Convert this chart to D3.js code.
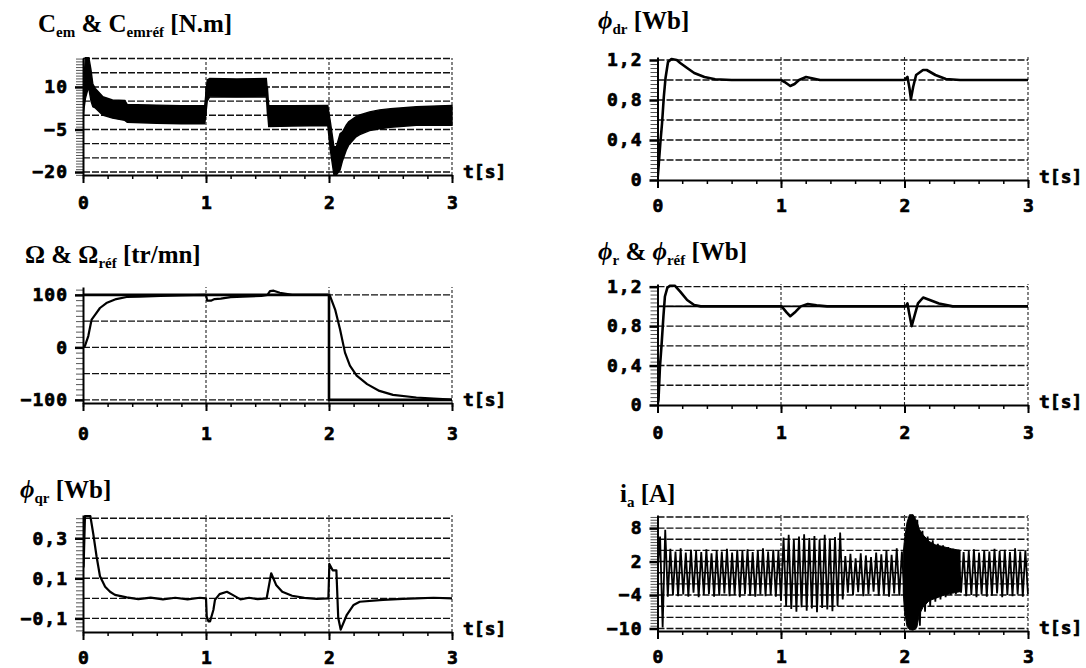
<!DOCTYPE html>
<html><head><meta charset="utf-8">
<script src="https://cdn.jsdelivr.net/npm/d3@7/dist/d3.min.js"></script>
<style>body{margin:0;background:#fff}svg{display:block}</style>
</head><body>
<svg id="c" width="1086" height="668"></svg>
<script>
// ---------------- DATA ----------------
const timeTicks  = [0, 1, 2, 3];
const timeLabels = ["0", "1", "2", "3"];

// Panel 1 : C_em (noisy band: upper / lower envelope) & C_em_ref
const cemT  = [0, 0.01, 0.02, 0.045, 0.065, 0.08, 0.10, 0.16, 0.24, 0.34, 0.36, 0.60, 0.80, 0.99, 1.01, 1.03, 1.25, 1.49, 1.51, 1.70, 1.99, 2.01, 2.04, 2.06, 2.09, 2.11, 2.14, 2.16, 2.22, 2.25, 2.33, 2.41, 2.50, 2.71, 3.00];
const cemHi = [2, 14, 21, 21, 16, 11, 9.5, 6.6, 5.4, 5.2, 3.8, 3.6, 3.4, 3.5, 12.5, 13, 12.8, 13, 3.5, 3.4, 3.5, -2, -11, -11.1, -6.5, -5.8, -3.5, -2.3, -0.5, 0.1, 1.2, 1.9, 2.3, 3.0, 3.5];
const cemLo = [-1, 3, 6, 10, 5, 3, 2.6, 0.1, -1.0, -1.8, -2.5, -2.8, -3.0, -3.0, 5, 6.5, 6.4, 6.5, -4, -3.8, -3.6, -12, -21, -21, -19.3, -16, -12.3, -10.5, -7.6, -6.8, -5.4, -4.8, -4.2, -3.5, -3.5];
const cemRefT = [0.25, 1, 1, 1.5, 1.5, 2.0];
const cemRefV = [0, 0, 10, 10, 0, 0];
const cemGrid = [-20, -15, -10, -5, 0, 5, 10, 15, 20];
const cemTicks = [10, -5, -20];
const cemTickLabels = ["10", "−5", "−20"];

// Panel 2 : phi_dr
const fdrT = [0, 0.008, 0.023, 0.037, 0.051, 0.065, 0.085, 0.113, 0.156, 0.184, 0.24, 0.297, 0.38, 0.467, 0.60, 1.00, 1.03, 1.075, 1.11, 1.146, 1.203, 1.316, 2.00, 2.024, 2.04, 2.052, 2.07, 2.094, 2.15, 2.18, 2.25, 2.335, 2.45, 3.00];
const fdrV = [0, 0.12, 0.37, 0.57, 0.83, 1.02, 1.18, 1.21, 1.2, 1.17, 1.12, 1.07, 1.03, 1.007, 1.0, 1.0, 0.98, 0.94, 0.96, 1.0, 1.03, 1.0, 1.0, 1.03, 0.92, 0.81, 0.93, 1.05, 1.1, 1.1, 1.05, 1.01, 1.0, 1.0];
const fluxGrid = [0.2, 0.4, 0.6, 0.8, 1.0, 1.2];
const fluxTicks = [1.2, 0.8, 0.4, 0];
const fluxTickLabels = ["1,2", "0,8", "0,4", "0"];

// Panel 3 : Omega & Omega_ref
const omT = [0, 0.016, 0.043, 0.07, 0.098, 0.138, 0.19, 0.27, 0.355, 0.46, 0.63, 0.80, 1.00, 1.01, 1.04, 1.07, 1.12, 1.20, 1.30, 1.45, 1.50, 1.52, 1.55, 1.60, 1.70, 2.00, 2.008, 2.05, 2.09, 2.13, 2.17, 2.225, 2.31, 2.41, 2.52, 2.71, 2.85, 3.00];
const omV = [0, 3, 21.5, 53, 62, 75, 84.5, 92, 96, 96.7, 98, 99, 100, 89, 89, 92, 93, 95.8, 96.8, 98, 100, 107, 108, 104, 100, 100, 98, 72, 34, -10, -35, -54, -70, -83, -90.5, -95.5, -97.5, -99.5];
const omRefT = [0, 2, 2, 3];
const omRefV = [100, 100, -100, -100];
const omGrid = [-100, -50, 0, 50, 100];
const omTicks = [100, 0, -100];
const omTickLabels = ["100", "0", "−100"];

// Panel 4 : phi_r & phi_ref
const frT = [0, 0.008, 0.02, 0.034, 0.048, 0.06, 0.08, 0.10, 0.14, 0.184, 0.24, 0.297, 0.35, 1.005, 1.047, 1.075, 1.118, 1.16, 1.217, 1.288, 1.373, 2.01, 2.024, 2.038, 2.058, 2.08, 2.109, 2.151, 2.194, 2.279, 2.39, 3.0];
const frV = [0, 0.05, 0.39, 0.63, 0.9, 1.1, 1.19, 1.21, 1.21, 1.15, 1.065, 1.014, 1.0, 1.0, 0.936, 0.90, 0.946, 1.0, 1.024, 1.01, 1.0, 1.0, 1.03, 0.93, 0.8, 0.9, 1.03, 1.09, 1.07, 1.03, 1.0, 1.0];
const frRefT = [0, 3];
const frRefV = [1.0, 1.0];

// Panel 5 : phi_qr
const fqT = [0, 0.005, 0.016, 0.06, 0.084, 0.11, 0.138, 0.18, 0.22, 0.26, 0.355, 0.45, 0.55, 0.65, 0.75, 0.85, 0.95, 1.0, 1.006, 1.02, 1.033, 1.06, 1.073, 1.11, 1.17, 1.22, 1.28, 1.35, 1.42, 1.493, 1.53, 1.57, 1.62, 1.70, 1.80, 1.90, 1.995, 2.003, 2.03, 2.06, 2.075, 2.095, 2.145, 2.20, 2.25, 2.44, 2.60, 2.71, 2.85, 3.0];
const fqV = [0.15, 0.16, 0.41, 0.41, 0.32, 0.21, 0.11, 0.058, 0.033, 0.017, 0.005, -0.004, 0.004, -0.005, 0.003, -0.005, 0.003, 0, -0.09, -0.115, -0.115, -0.058, -0.008, 0.021, 0.033, 0.016, -0.005, 0.003, -0.004, 0.0, 0.125, 0.067, 0.033, 0.013, 0.002, -0.003, 0.0, 0.172, 0.14, 0.14, -0.097, -0.156, -0.082, -0.033, -0.017, -0.008, -0.003, 0.0, 0.003, 0.0];
const fqGrid = [-0.1, 0, 0.1, 0.2, 0.3, 0.4];
const fqTicks = [0.3, 0.1, -0.1];
const fqTickLabels = ["0,3", "0,1", "−0,1"];

// Panel 6 : i_a  (recorded samples, one every half period)
const iaStep = 0.02083;
const iaV = [0, 6.5, -9.8, 7.7, -4.3,
  4.3, -4.0, 3.8, -4.2, 4.4, -3.9, 3.6, -4.3, 4.1, -3.6,
  3.9, -4.4, 3.7, -4.0, 4.2, -3.8, 3.5, -4.3, 4.0, -4.1,
  3.8, -3.7, 4.3, -4.2, 3.6, -4.0, 4.1, -4.4, 3.9, -3.8,
  4.2, -4.1, 3.7, -4.3, 4.0, -3.9, 4.4, -4.2, 3.8, -4.0,
  4.1, -4.3, 3.9,
  -5.0, 6.3, -6.0, 6.8, -6.5, 6.0, -7.0, 6.5, -6.2, 6.9,
  -6.8, 6.2, -6.4, 6.6, -7.1, 6.0, -6.3, 6.8, -6.6, 6.1,
  -6.9, 6.4, -6.0, 7.2,
  -4.8, 3.0, -3.6, 3.4, -4.0, 2.6, -3.5, 3.5, -4.2, 3.1,
  -3.8, 2.8, -3.4, 3.6, -4.1, 3.3, -3.9, 4.0, -4.3, 3.2,
  -3.7, 4.4, -4.1, 3.8,
  -4.0, 8.0, -9.8, 10.3, -10.2, 9.5, -9.5, 7.5, -7.0, 6.5,
  -6.0, 5.8, -5.2, 5.2, -4.8, 4.9, -4.4, 4.6, -4.0, 4.3,
  -3.8, 4.1,
  -3.6, 3.7, -4.2, 3.9, -4.0, 4.2, -4.4, 3.6, -3.9, 4.0,
  -4.3, 3.8, -4.1, 4.3, -3.7, 3.9, -4.4, 4.1, -4.0, 3.7,
  -4.2, 4.4, -3.9, 3.8, -4.3, 4.0, -3.8];
const iaBlobT  = [1.99, 2.00, 2.02, 2.04, 2.07, 2.10, 2.12, 2.15, 2.20, 2.25, 2.31, 2.38, 2.45];
const iaBlobHi = [3.5, 6.0, 9.0, 10.4, 10.4, 9.2, 7.8, 6.8, 5.6, 5.0, 4.7, 4.3, 4.0];
const iaBlobLo = [-3.5, -7.0, -9.6, -10.2, -10.3, -9.8, -7.5, -6.2, -5.0, -4.6, -4.1, -3.7, -3.4];
const iaGrid = [-10, -8, -6, -4, -2, 0, 2, 4, 6, 8, 10];
const iaTicks = [8, 2, -4, -10];
const iaTickLabels = ["8", "2", "−4", "−10"];

// ---------------- DRAWING ----------------
const svg = d3.select("#c");
svg.append("rect").attr("width", 1086).attr("height", 668).attr("fill", "#fff");
const MONO = "'DejaVu Sans Mono', monospace";
const SERIF = "'Liberation Serif', 'Times New Roman', serif";

function boldText(sel, size) {
  sel.attr("font-family", MONO).attr("font-weight", "bold").attr("font-size", size)
    .attr("fill", "#000").attr("stroke", "#000").attr("stroke-width", 0.7);
}

function title(x, y, parts) {
  const t = svg.append("text").attr("x", x).attr("y", y)
    .attr("font-family", SERIF).attr("font-weight", "bold").attr("font-size", 25).attr("fill", "#000");
  let prevSub = false;
  parts.forEach(p => {
    const ts = t.append("tspan").text(p.t);
    if (p.sub) { ts.attr("font-size", 15); if (!prevSub) ts.attr("dy", 5); }
    else if (prevSub) ts.attr("dy", -5);
    if (p.it) ts.attr("font-style", "italic");
    prevSub = !!p.sub;
  });
}

function panel(o) {
  const x = d3.scaleLinear().domain([0, 3]).range([o.left, o.right]);
  const y = d3.scaleLinear().domain(o.yDomain).range([o.bottom, o.top]);
  const g = svg.append("g");
  const cid = "clip" + o.id;
  svg.append("clipPath").attr("id", cid).append("rect")
    .attr("x", o.left).attr("y", o.top - 1).attr("width", o.right - o.left + 1).attr("height", o.bottom - o.top + 1);

  // horizontal grid
  g.append("g").selectAll("line").data(o.grid).join("line")
    .attr("x1", x(0)).attr("x2", x(3)).attr("y1", d => y(d)).attr("y2", d => y(d))
    .attr("stroke", "#111").attr("stroke-width", 1.4).attr("stroke-dasharray", "7,2");
  // vertical grid (t = 1, 2, 3)
  g.append("g").selectAll("line").data([1, 2, 3]).join("line")
    .attr("x1", d => x(d)).attr("x2", d => x(d)).attr("y1", o.bottom).attr("y2", o.top)
    .attr("stroke", "#222").attr("stroke-width", 1.1).attr("stroke-dasharray", "3,2");

  // minor y ticks
  const d0 = o.yDomain[0], d1 = o.yDomain[1];
  const minorVals = d3.range(Math.ceil(d0 / o.minor) * o.minor, d1, o.minor);
  g.append("g").attr("transform", `translate(${o.left},0)`)
    .call(d3.axisLeft(y).tickValues(minorVals).tickSize(7).tickFormat(""))
    .call(s => { s.select(".domain").remove(); s.selectAll("line").attr("stroke", "#555").attr("stroke-width", 1); });

  // minor x ticks
  g.append("g").attr("transform", `translate(0,${o.bottom})`)
    .call(d3.axisBottom(x).tickValues(d3.range(0, 3.001, 0.2)).tickSize(4).tickFormat(""))
    .call(s => { s.select(".domain").remove(); s.selectAll("line").attr("stroke", "#000").attr("stroke-width", 1.5); });

  // series
  const plot = g.append("g").attr("clip-path", `url(#${cid})`);
  o.draw(plot, x, y);

  // y axis
  g.append("g").attr("transform", `translate(${o.left},0)`)
    .call(d3.axisLeft(y).tickValues(o.ticks).tickFormat((d, i) => o.tickLabels[i]).tickSize(8).tickPadding(7).tickSizeOuter(0))
    .call(s => {
      s.select(".domain").attr("stroke", "#000").attr("stroke-width", 2);
      s.selectAll(".tick line").attr("stroke", "#000").attr("stroke-width", 2.5);
      s.selectAll("text").call(boldText, 18).attr("letter-spacing", 1);
    });
  // x axis
  g.append("g").attr("transform", `translate(0,${o.bottom})`)
    .call(d3.axisBottom(x).tickValues(timeTicks).tickFormat((d, i) => timeLabels[i]).tickSize(8).tickPadding(o.labOff - 14).tickSizeOuter(0))
    .call(s => {
      s.select(".domain").attr("stroke", "#000").attr("stroke-width", 2);
      s.selectAll(".tick line").attr("stroke", "#000").attr("stroke-width", 2);
      s.selectAll("text").call(boldText, 18);
    });
  // t[s]
  svg.append("text").attr("x", o.right + 11).attr("y", o.bottom - 2).attr("dominant-baseline", "middle")
    .call(boldText, 18).text("t[s]");
}

const lineGen = (x, y) => d3.line().x(d => x(d[0])).y(d => y(d[1]));

const LEFT = { left: 83, right: 452 }, RIGHT = { left: 657.5, right: 1028 };

// Panel 1
panel({ id: 1, ...LEFT, top: 58, bottom: 175, yDomain: [-21.05, 20.2], grid: cemGrid, minor: 1,
  ticks: cemTicks, tickLabels: cemTickLabels, labOff: 27,
  draw: (p, x, y) => {
    const d = d3.zip(cemT, cemHi, cemLo);
    p.append("path").datum(d)
      .attr("d", d3.area().x(e => x(e[0])).y1(e => y(e[1])).y0(e => y(e[2])))
      .attr("fill", "#000").attr("stroke", "#000").attr("stroke-width", 1.4);
    p.append("path").datum(d3.zip(cemRefT, cemRefV)).attr("d", lineGen(x, y))
      .attr("fill", "none").attr("stroke", "#000").attr("stroke-width", 1.5);
  } });
title(38, 32, [{ t: "C" }, { t: "em", sub: 1 }, { t: " & C" }, { t: "emréf", sub: 1 }, { t: " [N.m]" }]);

// Panel 2
panel({ id: 2, ...RIGHT, top: 57, bottom: 180, yDomain: [0, 1.23], grid: fluxGrid, minor: 0.04,
  ticks: fluxTicks, tickLabels: fluxTickLabels, labOff: 25,
  draw: (p, x, y) => {
    p.append("path").datum(d3.zip(fdrT, fdrV)).attr("d", lineGen(x, y))
      .attr("fill", "none").attr("stroke", "#000").attr("stroke-width", 2.6).attr("stroke-linejoin", "round");
  } });
title(598, 29, [{ t: "ϕ", it: 1 }, { t: "dr", sub: 1 }, { t: " [Wb]" }]);

// Panel 3
panel({ id: 3, ...LEFT, top: 287, bottom: 403, yDomain: [-106, 115], grid: omGrid, minor: 10,
  ticks: omTicks, tickLabels: omTickLabels, labOff: 30,
  draw: (p, x, y) => {
    p.append("path").datum(d3.zip(omRefT, omRefV)).attr("d", lineGen(x, y))
      .attr("fill", "none").attr("stroke", "#000").attr("stroke-width", 2.6);
    p.append("path").datum(d3.zip(omT, omV)).attr("d", lineGen(x, y))
      .attr("fill", "none").attr("stroke", "#000").attr("stroke-width", 2.2).attr("stroke-linejoin", "round");
  } });
title(25, 263, [{ t: "Ω & Ω" }, { t: "réf", sub: 1 }, { t: " [tr/mn]" }]);

// Panel 4
panel({ id: 4, ...RIGHT, top: 284, bottom: 405, yDomain: [0, 1.227], grid: fluxGrid, minor: 0.04,
  ticks: fluxTicks, tickLabels: fluxTickLabels, labOff: 27,
  draw: (p, x, y) => {
    p.append("path").datum(d3.zip(frRefT, frRefV)).attr("d", lineGen(x, y))
      .attr("fill", "none").attr("stroke", "#000").attr("stroke-width", 1.6);
    p.append("path").datum(d3.zip(frT, frV)).attr("d", lineGen(x, y))
      .attr("fill", "none").attr("stroke", "#000").attr("stroke-width", 2.6).attr("stroke-linejoin", "round");
  } });
title(598, 260, [{ t: "ϕ", it: 1 }, { t: "r", sub: 1 }, { t: " & " }, { t: "ϕ", it: 1 }, { t: "réf", sub: 1 }, { t: "  [Wb]" }]);

// Panel 5
panel({ id: 5, ...LEFT, top: 515, bottom: 632, yDomain: [-0.168, 0.416], grid: fqGrid, minor: 0.02,
  ticks: fqTicks, tickLabels: fqTickLabels, labOff: 25,
  draw: (p, x, y) => {
    p.append("path").datum(d3.zip(fqT, fqV)).attr("d", lineGen(x, y))
      .attr("fill", "none").attr("stroke", "#000").attr("stroke-width", 2.2).attr("stroke-linejoin", "round");
  } });
title(20, 498, [{ t: "ϕ", it: 1 }, { t: "qr", sub: 1 }, { t: " [Wb]" }]);

// Panel 6
panel({ id: 6, ...RIGHT, top: 515, bottom: 631, yDomain: [-10.45, 10.35], grid: iaGrid, minor: 0.5,
  ticks: iaTicks, tickLabels: iaTickLabels, labOff: 25,
  draw: (p, x, y) => {
    p.append("path").datum(iaV.map((v, i) => [i * iaStep, v])).attr("d", lineGen(x, y))
      .attr("fill", "none").attr("stroke", "#000").attr("stroke-width", 1.8);
    p.append("path").datum(d3.zip(iaBlobT, iaBlobHi, iaBlobLo))
      .attr("d", d3.area().x(e => x(e[0])).y1(e => y(e[1])).y0(e => y(e[2])))
      .attr("fill", "#000").attr("stroke", "#000").attr("stroke-width", 1);
  } });
title(620, 502, [{ t: "i" }, { t: "a", sub: 1 }, { t: " [A]" }]);
</script>
</body></html>
